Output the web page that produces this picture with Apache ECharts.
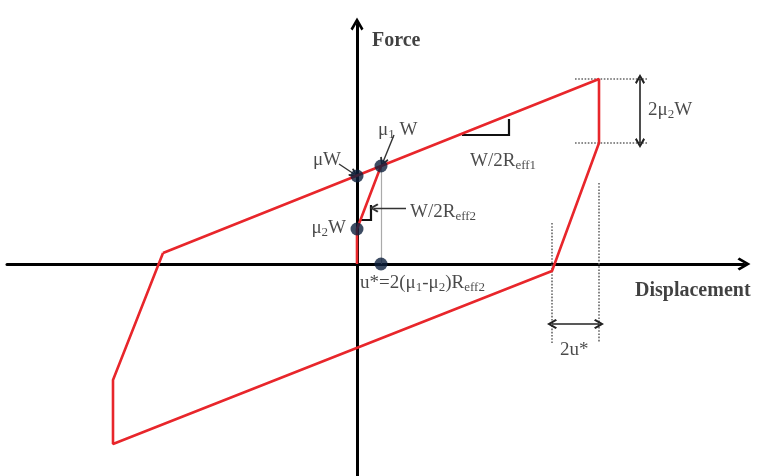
<!DOCTYPE html>
<html>
<head>
<meta charset="utf-8">
<script src="https://cdn.jsdelivr.net/npm/echarts@6/dist/echarts.min.js"></script>
<style>
  html, body { margin: 0; padding: 0; background: #fff; }
  #chart { width: 761px; height: 476px; }
</style>
</head>
<body>
<div id="chart"></div>
<script>
// hysteresis loop (displacement, force)
const loopX = [-194, 242, 242, 195, -244, -244, -194]
const loopY = [11, 185, 121, -7, -180, -116, 11]
// initial loading branch from the origin
const initX = [0, 0, 24]
const initY = [0, 35, 98]
// marked points: μW, μ1W, μ2W, u*
const dotX = [0, 24, 0, 24]
const dotY = [88, 98, 35, 0]

// guide lines
const dottedGuides = [
  [[218, 185], [291, 185]],
  [[218, 121], [291, 121]],
  [[195, 41], [195, -79]],
  [[242, 81], [242, -79]]
]
const greyGuides = [[[24, 98], [24, 0]]]
const dimArrows = [
  [[283, 185], [283, 121]],
  [[195, -60], [242, -60]]
]
const pointers = [
  [[-18, 100], [-3, 90]],
  [[37, 129], [26, 102]],
  [[49, 56], [17, 56]]
]
const slopeMarks = [
  [[105, 129], [152, 129], [152, 145]],
  [[4, 44], [14, 44], [14, 59]]
]

// annotation texts and their anchors
const labelText = [
  '{t|μW}',
  '{t|μ}{s|1}{t| W}',
  '{t|μ}{s|2}{t|W}',
  '{t|u*=2(μ}{s|1}{t|-μ}{s|2}{t|)R}{s|eff2}',
  '{t|2μ}{s|2}{t|W}',
  '{t|2u*}',
  '{t|W/2R}{s|eff1}',
  '{t|W/2R}{s|eff2}',
  '{b|Force}',
  '{b|Displacement}'
]
const labelAt = [
  [-16, 104], [21, 134], [-11, 36], [3, -19], [291, 154],
  [203, -86], [113, 103], [53, 52], [15, 223], [278, -27]
]
const labelSide = ['left', 'right', 'left', 'right', 'right', 'right', 'right', 'right', 'right', 'right']

const serif = '"Liberation Serif", "DejaVu Serif", serif'
const chevron = 'path://M5,0 L10,8.6 L8.4,10 L5,4 L1.6,10 L0,8.6 Z'
const red = '#e8262b'

const pairs = (xs, ys) => xs.map((x, i) => [x, ys[i]])
const segs = list => list.map(c => ({ coords: c }))

const option = {
  animation: false,
  grid: { left: 7, right: 17, top: 24, bottom: 0 },
  xAxis: {
    type: 'value',
    min: -350,
    max: 387,
    axisLine: {
      onZero: true,
      symbol: ['none', chevron],
      symbolSize: [14, 13],
      lineStyle: { color: '#000', width: 3 }
    },
    axisTick: { show: false },
    axisLabel: { show: false },
    splitLine: { show: false }
  },
  yAxis: {
    type: 'value',
    min: -212,
    max: 240,
    axisLine: {
      onZero: true,
      symbol: ['none', chevron],
      symbolSize: [14, 13],
      lineStyle: { color: '#000', width: 3 }
    },
    axisTick: { show: false },
    axisLabel: { show: false },
    splitLine: { show: false }
  },
  series: [
    {
      type: 'lines',
      coordinateSystem: 'cartesian2d',
      data: segs(dottedGuides),
      lineStyle: { color: '#666', width: 1.6, type: 'dotted', opacity: 1 },
      z: 1
    },
    {
      type: 'lines',
      coordinateSystem: 'cartesian2d',
      data: segs(greyGuides),
      lineStyle: { color: '#aaa', width: 1.2, opacity: 1 },
      z: 1
    },
    {
      type: 'line',
      data: pairs(loopX, loopY),
      symbol: 'none',
      lineStyle: { color: red, width: 2.6 },
      z: 3
    },
    {
      type: 'line',
      data: pairs(initX, initY),
      symbol: 'none',
      lineStyle: { color: red, width: 2.6 },
      z: 3
    },
    {
      type: 'lines',
      coordinateSystem: 'cartesian2d',
      polyline: true,
      data: segs(slopeMarks),
      lineStyle: { color: '#111', width: 2.2, opacity: 1 },
      z: 2
    },
    {
      type: 'lines',
      coordinateSystem: 'cartesian2d',
      data: segs(dimArrows),
      symbol: [chevron, chevron],
      symbolSize: 10,
      lineStyle: { color: '#222', width: 1.6, opacity: 1 },
      z: 2
    },
    {
      type: 'lines',
      coordinateSystem: 'cartesian2d',
      data: segs(pointers),
      symbol: ['none', chevron],
      symbolSize: 9,
      lineStyle: { color: '#333', width: 1.4, opacity: 1 },
      z: 2
    },
    {
      type: 'scatter',
      data: pairs(dotX, dotY),
      symbolSize: 13,
      itemStyle: { color: '#0c1f3c' },
      z: 5
    },
    {
      type: 'scatter',
      symbolSize: 0,
      silent: true,
      data: labelAt.map((p, i) => ({
        value: p,
        label: { show: true, position: labelSide[i], distance: 0, formatter: labelText[i] }
      })),
      label: {
        rich: {
          t: { fontFamily: serif, fontSize: 19, color: '#1c1c1c', lineHeight: 22 },
          s: { fontFamily: serif, fontSize: 13, color: '#1c1c1c', lineHeight: 12, verticalAlign: 'bottom' },
          b: { fontFamily: serif, fontSize: 20, fontWeight: 'bold', color: '#111', lineHeight: 24 }
        }
      },
      z: 6
    }
  ]
}

const chart = echarts.init(document.getElementById('chart'))
chart.setOption(option)
</script>
</body>
</html>
